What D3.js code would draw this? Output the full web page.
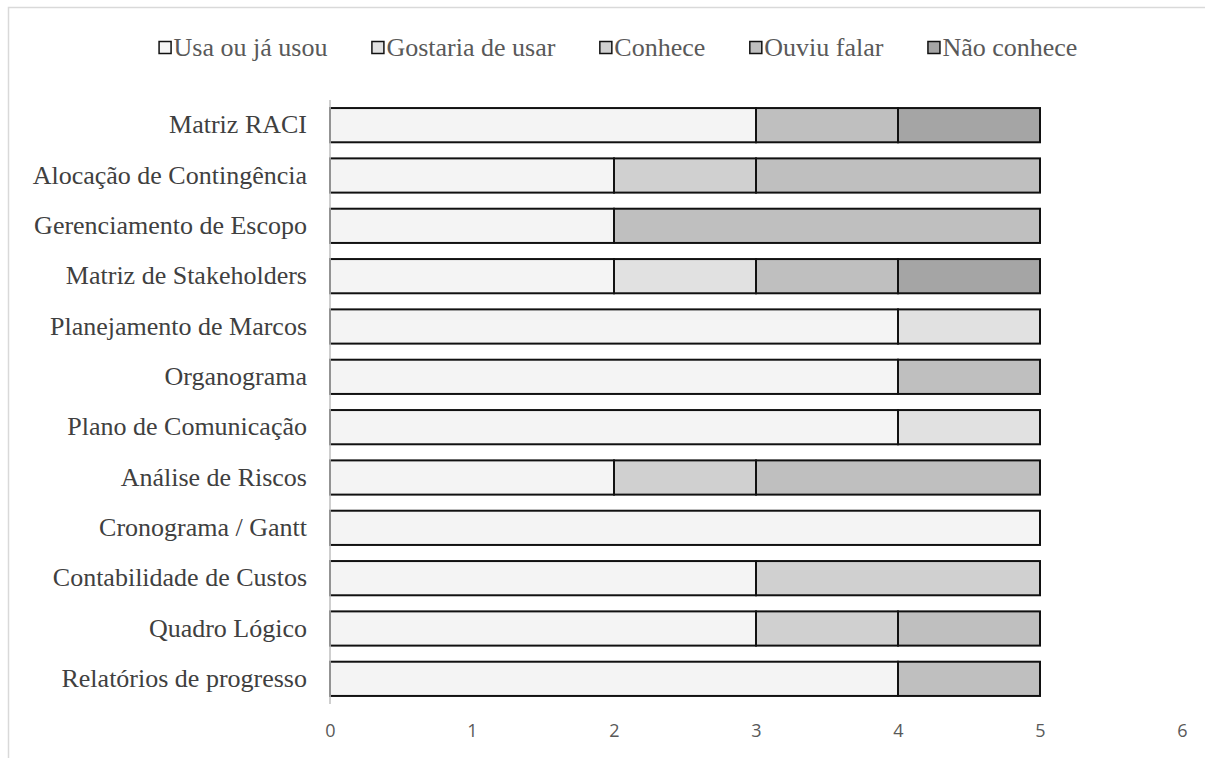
<!DOCTYPE html>
<html>
<head>
<meta charset="utf-8">
<script src="https://cdn.jsdelivr.net/npm/d3@7"></script>
<style>
  body { margin: 0; background: #fff; }
</style>
</head>
<body>
<div id="chart"></div>
<script>
// categories, top to bottom
const categories = [
  "Matriz RACI",
  "Alocação de Contingência",
  "Gerenciamento de Escopo",
  "Matriz de Stakeholders",
  "Planejamento de Marcos",
  "Organograma",
  "Plano de Comunicação",
  "Análise de Riscos",
  "Cronograma / Gantt",
  "Contabilidade de Custos",
  "Quadro Lógico",
  "Relatórios de progresso"
];

const seriesNames = ["Usa ou já usou", "Gostaria de usar", "Conhece", "Ouviu falar", "Não conhece"];
const seriesColors = ["#f4f4f4", "#e1e1e1", "#d0d0d0", "#bfbfbf", "#a5a5a5"];

const usaValues      = [3, 2, 2, 2, 4, 4, 4, 2, 5, 3, 3, 4];
const gostariaValues = [0, 0, 0, 1, 1, 0, 1, 0, 0, 0, 0, 0];
const conheceValues  = [0, 1, 0, 0, 0, 0, 0, 1, 0, 2, 1, 0];
const ouviuValues    = [1, 2, 3, 1, 0, 1, 0, 2, 0, 0, 1, 1];
const naoValues      = [1, 0, 0, 1, 0, 0, 0, 0, 0, 0, 0, 0];

const xTicks = [0, 1, 2, 3, 4, 5, 6];

function main(){
  let width = 1205;
  let height = 758;
  let serif = "'Liberation Serif', 'Times New Roman', serif";

  let svg = d3.select("#chart")
              .append("svg")
              .attr("width", width)
              .attr("height", height);

  // chart frame (cut off at right and bottom like the picture)
  svg.append("rect")
     .attr("x", 8.5).attr("y", 7.5)
     .attr("width", 1220).attr("height", 800)
     .attr("fill", "none")
     .attr("stroke", "#d9d9d9")
     .attr("stroke-width", 1.5);

  let rows = categories.map((c, i) => ({
    name: c,
    [seriesNames[0]]: usaValues[i],
    [seriesNames[1]]: gostariaValues[i],
    [seriesNames[2]]: conheceValues[i],
    [seriesNames[3]]: ouviuValues[i],
    [seriesNames[4]]: naoValues[i]
  }));

  let stacked = d3.stack().keys(seriesNames)(rows);

  let xScale = d3.scaleLinear().domain([0, 6]).range([330, 1182]);
  let yScale = d3.scaleBand()
                 .domain(categories)
                 .range([100, 704])
                 .paddingInner(0.32)
                 .paddingOuter(0.16);

  let colorScale = d3.scaleOrdinal().domain(seriesNames).range(seriesColors);

  // bars
  let groups = svg.append("g").attr("id", "bars")
                  .selectAll("g")
                  .data(stacked)
                  .enter()
                  .append("g")
                  .attr("fill", d => colorScale(d.key));

  groups.selectAll("rect")
        .data(d => d.filter(s => s[1] - s[0] > 0))
        .enter()
        .append("rect")
        .attr("x", d => xScale(d[0]))
        .attr("y", d => yScale(d.data.name))
        .attr("width", d => xScale(d[1]) - xScale(d[0]))
        .attr("height", yScale.bandwidth())
        .attr("stroke", "#111")
        .attr("stroke-width", 2);

  // vertical axis line
  svg.append("line")
     .attr("x1", xScale(0)).attr("x2", xScale(0))
     .attr("y1", 100).attr("y2", 704)
     .attr("stroke", "#bfbfbf")
     .attr("stroke-width", 1.5);

  // x axis tick labels
  let xAxis = d3.axisBottom(xScale).tickValues(xTicks).tickFormat(d3.format("d")).tickSize(0).tickPadding(0);
  let xg = svg.append("g")
              .attr("transform", `translate(0,724)`)
              .call(xAxis);
  xg.select(".domain").remove();
  xg.selectAll("text")
    .attr("font-family", "'Open Sans', sans-serif")
    .attr("font-size", 18)
    .attr("fill", "#595959");

  // category labels
  let yAxis = d3.axisLeft(yScale).tickSize(0).tickPadding(0);
  let yg = svg.append("g")
              .attr("transform", `translate(307,0)`)
              .call(yAxis);
  yg.select(".domain").remove();
  yg.selectAll("text")
    .attr("font-family", serif)
    .attr("font-size", 26)
    .attr("fill", "#404040");

  // legend, centred over the plot
  let legend = svg.append("g").attr("id", "legend");
  let lx = 0;
  seriesNames.forEach((name, i) => {
    legend.append("rect")
          .attr("x", lx + 0.5).attr("y", 41.5)
          .attr("width", 12).attr("height", 12)
          .attr("fill", seriesColors[i])
          .attr("stroke", "#111")
          .attr("stroke-width", 1.5);
    let t = legend.append("text")
                  .attr("x", lx + 15)
                  .attr("y", 56)
                  .attr("font-family", serif)
                  .attr("font-size", 26)
                  .attr("fill", "#595959")
                  .text(name);
    lx += 15 + t.node().getComputedTextLength() + (i < seriesNames.length - 1 ? 44 : 0);
  });
  legend.attr("transform", `translate(${158 + (1078 - 158 - lx) / 2},0)`);
}

main();
</script>
</body>
</html>
